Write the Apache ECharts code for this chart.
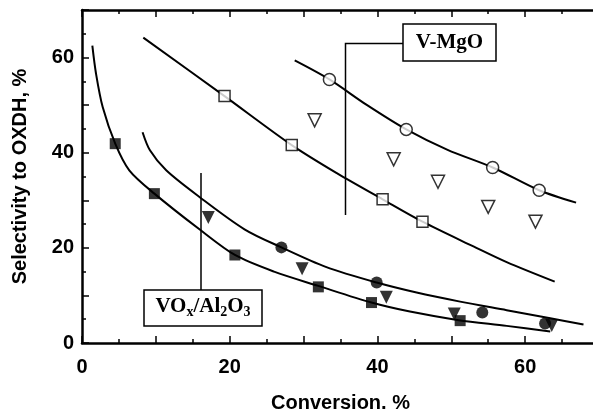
<!DOCTYPE html>
<html><head><meta charset="utf-8">
<script src="https://cdn.jsdelivr.net/npm/echarts@6/dist/echarts.min.js"></script>
<style>html,body{margin:0;padding:0;background:#fff}#c{width:593px;height:409px}</style>
</head><body><div id="c"></div><script>
// V-MgO catalysts: [conversion %, selectivity %]
const vmgoCircles   = [[33.5,55.4],[43.9,44.9],[55.6,36.9],[61.9,32.1]];
const vmgoSquares   = [[19.3,51.9],[28.4,41.6],[40.7,30.2],[46.1,25.5]];
const vmgoTriangles = [[31.5,46.8],[42.2,38.6],[48.2,33.9],[55.0,28.6],[61.4,25.5]];
// VOx/Al2O3 catalysts
const alSquares   = [[4.5,41.9],[9.8,31.4],[20.7,18.5],[32.0,11.8],[39.2,8.5],[51.2,4.7]];
const alCircles   = [[27.0,20.1],[39.9,12.7],[54.2,6.4],[62.7,4.1]];
const alTriangles = [[17.1,26.4],[29.8,15.6],[41.2,9.6],[50.4,6.1],[63.6,3.7]];
// trend curves drawn through each group
const trendVmgoCircles = [[28.8,59.4],[33.5,55.4],[38.5,50.1],[43.9,44.9],[49.5,40.6],[55.6,36.9],[61.9,32.1],[66.9,29.5]];
const trendVmgoSquares = [[8.3,64.2],[19.3,51.9],[28.4,41.6],[34.5,35.7],[40.7,30.2],[46.1,25.5],[53.0,20.3],[57.5,17.0],[64.0,12.9]];
const trendAlSquares = [[1.4,62.5],[1.9,56.6],[2.8,49.6],[4.5,41.9],[6.4,36.3],[9.8,31.4],[15.9,23.9],[20.7,18.5],[26.0,15.0],[32.0,12.0],[39.2,8.5],[44.4,6.6],[51.0,4.8],[57.5,3.6],[63.4,2.4]];
const trendAlCircles = [[8.2,44.3],[9.2,40.5],[11.4,36.3],[15.9,30.7],[22.0,23.9],[27.0,20.1],[33.0,16.0],[39.9,12.7],[45.3,10.6],[51.2,8.7],[57.5,6.9],[63.4,5.2],[67.9,3.9]];

const chart = echarts.init(document.getElementById('c'), null, {renderer: 'canvas'});
const sans = 'Liberation Sans, Arial, sans-serif';
const serif = 'Liberation Serif, Times New Roman, serif';
const axisLine = {show: true, lineStyle: {color: '#000', width: 2.5}};
const tick = {show: true, inside: true, length: 7, lineStyle: {color: '#000', width: 1.5}};
const minor = {show: true, splitNumber: 2, length: 4, lineStyle: {color: '#000', width: 1.5}};
const everyTwenty = v => (v % 20 === 0 ? String(v) : '');

function trend(data) {
  return {type: 'line', data, smooth: 0.3, symbol: 'none', silent: true, z: 2,
    lineStyle: {color: '#000', width: 2}};
}
function pts(data, symbol, size, filled, rotate) {
  return {type: 'scatter', data, symbol, symbolSize: size, symbolRotate: rotate || 0, z: 3,
    itemStyle: {color: filled ? '#000' : '#fff', borderColor: '#000', borderWidth: filled ? 0 : 1.5}};
}

chart.setOption({
  animation: false,
  grid: {left: 82, right: -6, top: 10, bottom: 66, outerBoundsMode: 'none', containLabel: false},
  xAxis: [{
    type: 'value', min: 0, max: 70, interval: 10,
    name: 'Conversion, %', nameLocation: 'middle', nameGap: 50,
    nameTextStyle: {fontFamily: sans, fontWeight: 'bold', fontSize: 20, color: '#000'},
    axisLine, axisTick: tick, minorTick: minor, splitLine: {show: false},
    axisLabel: {formatter: everyTwenty, margin: 14, fontFamily: sans, fontWeight: 'bold', fontSize: 20, color: '#000'}
  }, {
    type: 'value', position: 'top', min: 0, max: 70, interval: 10,
    axisLine, axisTick: tick, minorTick: minor, splitLine: {show: false}, axisLabel: {show: false}
  }],
  yAxis: [{
    type: 'value', min: 0, max: 70, interval: 10,
    name: 'Selectivity to OXDH, %', nameLocation: 'middle', nameGap: 52, nameRotate: 90,
    nameTextStyle: {fontFamily: sans, fontWeight: 'bold', fontSize: 20, color: '#000'},
    axisLine, axisTick: tick, minorTick: minor, splitLine: {show: false},
    axisLabel: {formatter: everyTwenty, margin: 8, fontFamily: sans, fontWeight: 'bold', fontSize: 20, color: '#000'}
  }],
  series: [
    trend(trendVmgoCircles), trend(trendVmgoSquares), trend(trendAlSquares), trend(trendAlCircles),
    pts(vmgoCircles, 'circle', 12, false),
    pts(vmgoSquares, 'rect', 11, false),
    pts(vmgoTriangles, 'triangle', 13, false, 180),
    pts(alSquares, 'rect', 11, true),
    pts(alCircles, 'circle', 12, true),
    pts(alTriangles, 'triangle', 13, true, 180)
  ],
  graphic: [
    {type: 'polyline', shape: {points: [[403, 43.5], [345.5, 43.5], [345.5, 215]]},
      style: {stroke: '#000', lineWidth: 1.5, fill: null}},
    {type: 'rect', shape: {x: 403, y: 24, width: 93, height: 37},
      style: {stroke: '#000', lineWidth: 1.5, fill: '#fff'}},
    {type: 'text', x: 449.5, y: 43, style: {text: 'V-MgO', font: 'bold 21px ' + serif,
      fill: '#000', align: 'center', verticalAlign: 'middle'}},
    {type: 'line', shape: {x1: 201, y1: 173, x2: 201, y2: 290},
      style: {stroke: '#000', lineWidth: 1.5}},
    {type: 'rect', shape: {x: 144, y: 290, width: 118, height: 36},
      style: {stroke: '#000', lineWidth: 1.5, fill: '#fff'}},
    {type: 'text', x: 203, y: 307, style: {
      text: '{b|VO}{s|x}{b|/Al}{s|2}{b|O}{s|3}', align: 'center', verticalAlign: 'middle',
      rich: {
        b: {fontFamily: serif, fontWeight: 'bold', fontSize: 21, lineHeight: 24, fill: '#000', verticalAlign: 'middle'},
        s: {fontFamily: serif, fontWeight: 'bold', fontSize: 14, lineHeight: 14, padding: [8, 0, 0, 0], fill: '#000', verticalAlign: 'bottom'}
      }}}
  ]
});
</script></body></html>
